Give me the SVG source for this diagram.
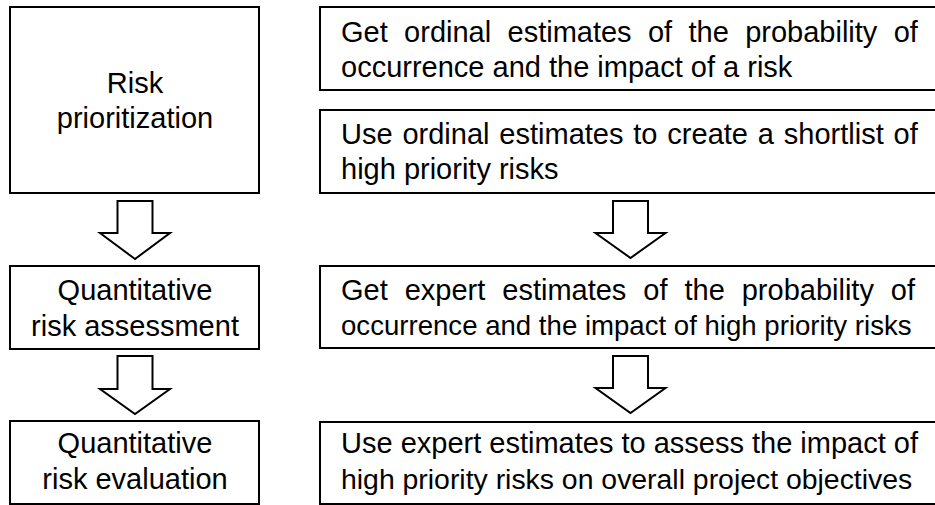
<svg xmlns="http://www.w3.org/2000/svg" width="935" height="505" viewBox="0 0 935 505">
<style>
.box{fill:#fff;stroke:#000;stroke-width:2}
.arr{fill:#fff;stroke:#000;stroke-width:2;stroke-linejoin:miter}
.t{font-family:"Liberation Sans",Arial,sans-serif;font-size:29px;fill:#000}
.c{text-anchor:middle}
</style>
<rect width="935" height="505" fill="#fff"/>
<g id="risk-prioritization">
<rect class="box" x="10" y="7" width="249" height="186"/>
<text class="t c" x="135" y="93">Risk</text>
<text class="t c" x="135" y="128">prioritization</text>
</g>
<g id="quant-assessment">
<rect class="box" x="10" y="266" width="249" height="83"/>
<text class="t c" x="135" y="300">Quantitative</text>
<text class="t c" x="135" y="336">risk assessment</text>
</g>
<g id="quant-evaluation">
<rect class="box" x="10" y="421" width="249" height="83"/>
<text class="t c" x="135" y="453">Quantitative</text>
<text class="t c" x="135" y="489">risk evaluation</text>
</g>
<g id="ordinal-estimates">
<rect class="box" x="320" y="7" width="630" height="83"/>
<text class="t" x="341" y="42" word-spacing="8.3">Get ordinal estimates of the probability of</text>
<text class="t" x="341" y="77">occurrence and the impact of a risk</text>
</g>
<g id="shortlist">
<rect class="box" x="320" y="110" width="630" height="83"/>
<text class="t" x="341" y="144" word-spacing="1.8">Use ordinal estimates to create a shortlist of</text>
<text class="t" x="341" y="179">high priority risks</text>
</g>
<g id="expert-estimates">
<rect class="box" x="320" y="266" width="630" height="82"/>
<text class="t" x="341" y="300" word-spacing="8.9">Get expert estimates of the probability of</text>
<text class="t" x="341" y="335" style="font-size:27.6px">occurrence and the impact of high priority risks</text>
</g>
<g id="assess-impact">
<rect class="box" x="320" y="422" width="630" height="82"/>
<text class="t" x="341" y="453">Use expert estimates to assess the impact of</text>
<text class="t" x="341" y="489" style="font-size:28.4px">high priority risks on overall project objectives</text>
</g>
<g id="connectors">
<polygon class="arr" points="117.5,201 152.5,201 152.5,233 170,233 135,259 100,233 117.5,233"/>
<polygon class="arr" points="117.5,356 152.5,356 152.5,389 170,389 135,414 100,389 117.5,389"/>
<polygon class="arr" points="613,201 648,201 648,233 665.5,233 630.5,258 595.5,233 613,233"/>
<polygon class="arr" points="613,356 648,356 648,388 665.5,388 630.5,413 595.5,388 613,388"/>
</g>
</svg>
